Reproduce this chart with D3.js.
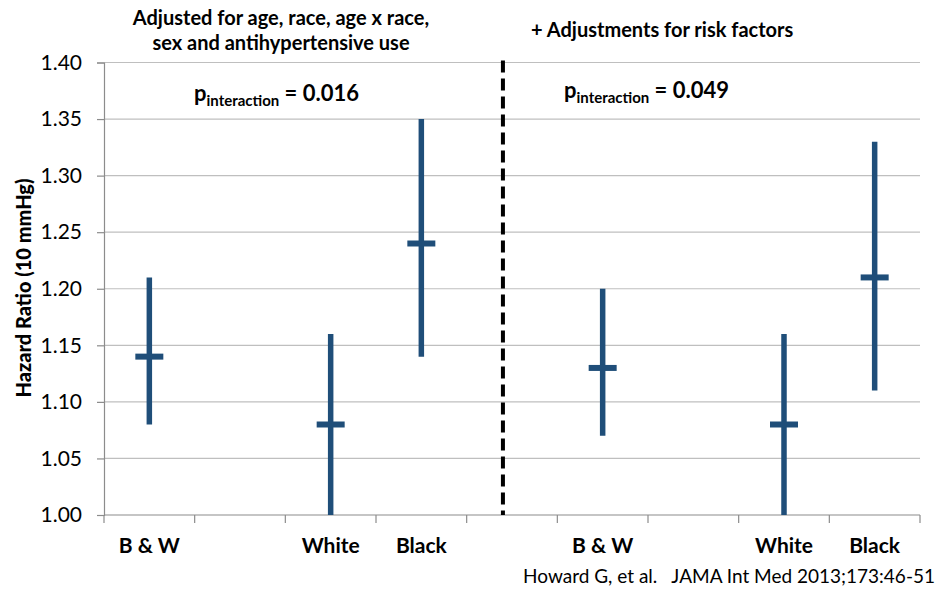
<!DOCTYPE html>
<html><head><meta charset="utf-8">
<script src="https://cdn.jsdelivr.net/npm/d3@7"></script>
<style>body{margin:0;background:#fff;} svg{display:block;font-family:Lato,"Open Sans",sans-serif;}</style>
</head><body>
<svg id="c" width="938" height="592"></svg>
<script>
// ---- data ----
const categories = ["B & W", "", "White", "Black", "", "B & W", "", "White", "Black"];
const pointCats = [0, 2, 3, 5, 7, 8];
const hazard = [1.14, 1.08, 1.24, 1.13, 1.08, 1.21];
const lower  = [1.08, 1.00, 1.14, 1.07, 1.00, 1.11];
const upper  = [1.21, 1.16, 1.35, 1.20, 1.16, 1.33];
const yTicks = [1.00, 1.05, 1.10, 1.15, 1.20, 1.25, 1.30, 1.35, 1.40];
const dividerAt = 4.4; // in category units
const pValues = ["0.016", "0.049"];

const W = 938, H = 592;
const m = {left: 104, right: 18, top: 62.5, bottom: 77};
const svg = d3.select("#c");
const g = svg.append("g").attr("transform", `translate(${m.left},${m.top})`);
const iw = W - m.left - m.right, ih = H - m.top - m.bottom;

const x = d3.scaleBand().domain(d3.range(categories.length)).range([0, iw]).padding(0);
const y = d3.scaleLinear().domain([1.0, 1.4]).range([ih, 0]);
const color = "#1f4e79";

// gridlines
g.append("g").selectAll("line").data(yTicks.slice(1)).join("line")
  .attr("x1", 0).attr("x2", iw).attr("y1", d => y(d)).attr("y2", d => y(d))
  .attr("stroke", "#bfbfbf").attr("stroke-width", 1.2);

// y axis
const ya = g.append("g").call(d3.axisLeft(y).tickValues(yTicks).tickFormat(d3.format(".2f")).tickSize(7).tickPadding(15));
ya.select(".domain").attr("stroke", "#8c8c8c").attr("stroke-width", 1.2);
ya.selectAll(".tick line").attr("stroke", "#8c8c8c").attr("stroke-width", 1.2);
ya.selectAll("text").attr("font-size", 21).attr("fill", "#000").attr("font-family", "Lato");

// x axis
const xa = g.append("g").attr("transform", `translate(0,${ih})`);
xa.append("line").attr("x1", 0).attr("x2", iw).attr("stroke", "#8c8c8c").attr("stroke-width", 1.2);
const bounds = d3.range(categories.length + 1).map(i => i < categories.length ? x(i) : x(categories.length - 1) + x.bandwidth());
xa.selectAll("line.tk").data(bounds).join("line").attr("class", "tk")
  .attr("x1", d => d).attr("x2", d => d).attr("y1", 0).attr("y2", 8)
  .attr("stroke", "#8c8c8c").attr("stroke-width", 1.2);
xa.selectAll("text").data(categories).join("text")
  .attr("x", (d, i) => x(i) + x.bandwidth() / 2).attr("y", 38)
  .attr("text-anchor", "middle").attr("font-size", 21).attr("font-weight", "bold").text(d => d);

// divider
const dx = x(Math.floor(dividerAt)) + (dividerAt % 1) * x.bandwidth();
g.append("line").attr("x1", dx).attr("x2", dx).attr("y1", -2).attr("y2", ih)
  .attr("stroke", "#000").attr("stroke-width", 4).attr("stroke-dasharray", "12,6");

// error bars
const pts = pointCats.map((c, i) => ({c, hr: hazard[i], lo: lower[i], hi: upper[i]}));
const cx = d => x(d.c) + x.bandwidth() / 2;
g.selectAll("line.ci").data(pts).join("line").attr("class", "ci")
  .attr("x1", cx).attr("x2", cx).attr("y1", d => y(d.lo)).attr("y2", d => y(d.hi))
  .attr("stroke", color).attr("stroke-width", 5.5);
g.selectAll("line.hr").data(pts).join("line").attr("class", "hr")
  .attr("x1", d => cx(d) - 14).attr("x2", d => cx(d) + 14).attr("y1", d => y(d.hr)).attr("y2", d => y(d.hr))
  .attr("stroke", color).attr("stroke-width", 6);

// titles
svg.append("text").attr("x", 281).attr("y", 25).attr("text-anchor", "middle")
  .attr("font-size", 20).attr("font-weight", "bold").text("Adjusted for age, race, age x race,");
svg.append("text").attr("x", 281).attr("y", 50).attr("text-anchor", "middle")
  .attr("font-size", 20).attr("font-weight", "bold").text("sex and antihypertensive use");
svg.append("text").attr("x", 531).attr("y", 37).attr("text-anchor", "start")
  .attr("font-size", 20).attr("font-weight", "bold").text("+ Adjustments for risk factors");

// p-values
[[194, 101], [564, 98]].forEach((p, i) => {
  const t = svg.append("text").attr("x", p[0]).attr("y", p[1]).attr("font-weight", "bold").attr("font-size", 22);
  t.append("tspan").text("p");
  t.append("tspan").attr("font-size", 15).attr("dy", 5).text("interaction");
  t.append("tspan").attr("dy", -5).text(" = " + pValues[i]);
});

// y label
svg.append("text").attr("transform", "translate(31,288) rotate(-90)").attr("text-anchor", "middle")
  .attr("font-size", 20).attr("font-weight", "900").text("Hazard Ratio (10 mmHg)");

// footer
svg.append("text").attr("x", 935).attr("y", 583).attr("text-anchor", "end")
  .attr("font-size", 19).attr("xml:space", "preserve").style("white-space", "pre")
  .text("Howard G, et al.   JAMA Int Med 2013;173:46-51");
</script>
</body></html>
